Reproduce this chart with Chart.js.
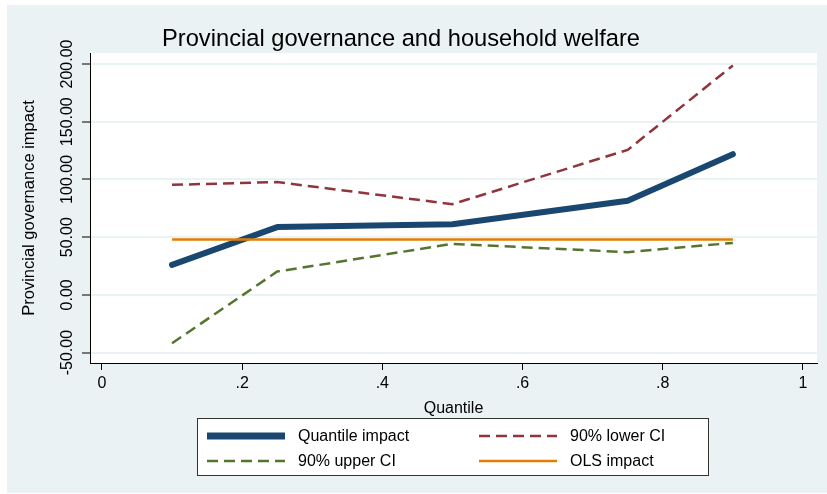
<!DOCTYPE html>
<html>
<head>
<meta charset="utf-8">
<script src="https://cdn.jsdelivr.net/npm/chart.js@4"></script>
<style>
    html, body { margin: 0; padding: 0; background: #fff; }
    #wrap { width: 827px; height: 494px; }
</style>
</head>
<body>
<div id="wrap"><canvas id="welfareChart" width="827" height="494"></canvas></div>
<script>
const quantiles = [0.1, 0.25, 0.5, 0.75, 0.9];
const quantileImpact = [26, 58.7, 61.2, 81.5, 121.9];
const lowerCI = [95.3, 97.7, 78.6, 125.6, 198.7];
const upperCI = [-41.9, 20.2, 44.2, 37, 45];
const olsImpact = [48, 48, 48, 48, 48];

const xTicks = [0, 0.2, 0.4, 0.6, 0.8, 1];
const xTickLabels = ['0', '.2', '.4', '.6', '.8', '1'];
const yTicks = [-50, 0, 50, 100, 150, 200];

const FONT = "'Liberation Sans', Arial, Helvetica, sans-serif";
const BG = '#eaf2f3';

function points(values) {
    return quantiles.map((q, i) => ({ x: q, y: values[i] }));
}

// page background, title and the boxed legend
const stataFrame = {
    id: 'stataFrame',
    beforeDraw(chart) {
        const { ctx, chartArea } = chart;
        ctx.save();
        ctx.fillStyle = '#fff';
        ctx.fillRect(0, 0, chart.width, chart.height);
        ctx.fillStyle = BG;
        ctx.fillRect(7, 5, chart.width - 7, chart.height - 6);
        ctx.fillStyle = '#fff';
        ctx.fillRect(chartArea.left, chartArea.top, chartArea.right - chartArea.left, chartArea.bottom - chartArea.top);
        ctx.restore();
    },
    afterDraw(chart) {
        const { ctx } = chart;
        ctx.save();
        ctx.fillStyle = '#000';
        ctx.font = `23.7px ${FONT}`;
        ctx.textAlign = 'center';
        ctx.textBaseline = 'middle';
        ctx.fillText('Provincial governance and household welfare', 401, 39);

        // legend box
        const box = { x: 197, y: 418, w: 511, h: 57 };
        ctx.fillStyle = '#fff';
        ctx.fillRect(box.x, box.y, box.w, box.h);
        ctx.strokeStyle = '#333';
        ctx.lineWidth = 1;
        ctx.strokeRect(box.x + 0.5, box.y + 0.5, box.w, box.h);

        const cols = [207, 479];
        const rows = [436, 461];
        ctx.font = `16px ${FONT}`;
        ctx.textAlign = 'left';
        chart.data.datasets.forEach((ds, i) => {
            const cx = cols[i % 2];
            const cy = rows[Math.floor(i / 2)];
            ctx.beginPath();
            ctx.strokeStyle = ds.borderColor;
            ctx.lineWidth = ds.borderWidth === 6 ? 7 : ds.borderWidth;
            ctx.lineCap = 'butt';
            ctx.setLineDash(ds.borderDash || []);
            ctx.moveTo(cx, cy);
            ctx.lineTo(cx + 78, cy);
            ctx.stroke();
            ctx.setLineDash([]);
            ctx.fillStyle = '#000';
            ctx.fillText(ds.label, cx + 91, cy + 1);
        });
        ctx.restore();
    }
};

new Chart(document.getElementById('welfareChart'), {
    type: 'line',
    data: {
        datasets: [
            {
                label: 'Quantile impact',
                data: points(quantileImpact),
                borderColor: '#1a476f',
                borderWidth: 6,
                borderCapStyle: 'round',
                borderJoinStyle: 'round',
                order: 4
            },
            {
                label: '90% lower CI',
                data: points(lowerCI),
                borderColor: '#90353b',
                borderWidth: 2.5,
                borderDash: [11, 6],
                order: 3
            },
            {
                label: '90% upper CI',
                data: points(upperCI),
                borderColor: '#55752f',
                borderWidth: 2.5,
                borderDash: [11, 6],
                order: 2
            },
            {
                label: 'OLS impact',
                data: points(olsImpact),
                borderColor: '#e37e00',
                borderWidth: 2.5,
                order: 1
            }
        ]
    },
    options: {
        responsive: false,
        animation: false,
        events: [],
        elements: { point: { radius: 0 }, line: { tension: 0 } },
        layout: { padding: { left: 7, top: 53, right: 10, bottom: 0 } },
        plugins: { legend: { display: false }, title: { display: false }, tooltip: { enabled: false } },
        scales: {
            x: {
                type: 'linear',
                min: -0.017,
                max: 1.02,
                afterBuildTicks: (scale) => { scale.ticks = xTicks.map(v => ({ value: v })); },
                afterFit: (scale) => { scale.height = 131; },
                grid: { drawOnChartArea: false, tickLength: 7, tickColor: '#000', tickWidth: 1 },
                border: { color: '#000', width: 1 },
                ticks: {
                    color: '#000',
                    font: { family: FONT, size: 16 },
                    padding: 4,
                    maxRotation: 0,
                    callback: (v) => xTickLabels[xTicks.indexOf(v)]
                },
                title: {
                    display: true,
                    text: 'Quantile',
                    color: '#000',
                    font: { family: FONT, size: 16 },
                    padding: { top: 0, bottom: 76 }
                }
            },
            y: {
                min: -59,
                max: 209.5,
                afterBuildTicks: (scale) => { scale.ticks = yTicks.map(v => ({ value: v })); },
                afterFit: (scale) => { scale.width = 83; },
                grid: { color: BG, lineWidth: 2, tickLength: 8, tickColor: '#000', tickWidth: 1 },
                border: { color: '#000', width: 1 },
                ticks: {
                    color: '#000',
                    font: { family: FONT, size: 16 },
                    minRotation: 90,
                    maxRotation: 90,
                    crossAlign: 'center',
                    padding: -10,
                    callback: (v) => v.toFixed(2)
                },
                title: {
                    display: true,
                    text: 'Provincial governance impact',
                    color: '#000',
                    font: { family: FONT, size: 16.5 },
                    padding: { top: 13, bottom: 0 }
                }
            }
        }
    },
    plugins: [stataFrame]
});
</script>
</body>
</html>
